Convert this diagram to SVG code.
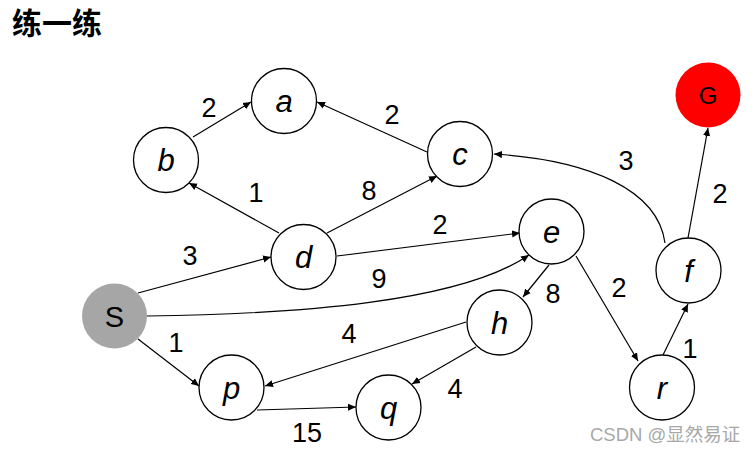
<svg xmlns="http://www.w3.org/2000/svg" width="756" height="453" viewBox="0 0 756 453">
<defs>
<marker id="arr" viewBox="0 0 10 10" refX="10" refY="5" markerWidth="8" markerHeight="8" markerUnits="userSpaceOnUse" orient="auto">
<path d="M0,0.5 L10,5 L0,9.5 z" fill="#000"/>
</marker>
</defs>
<style>
.n{fill:#fff;stroke:#000;stroke-width:1.3}
.nl{font-family:"Liberation Sans",Arial,sans-serif;font-style:italic;font-size:31px;text-anchor:middle;fill:#000}
.e{fill:none;stroke:#000;stroke-width:1.2;marker-end:url(#arr)}
.w{font-family:"Liberation Sans",Arial,sans-serif;font-size:27px;text-anchor:middle;fill:#000}
</style>
<rect width="756" height="453" fill="#fff"/>
<text x="12" y="34" font-family="'Noto Sans CJK SC',sans-serif" font-weight="bold" font-size="30" fill="#000">练一练</text>
<g id="connectors">
<path class="e" d="M193,137 L251,102"/>
<path class="e" d="M427,152 L317,102"/>
<path class="e" d="M279,233 L189,183"/>
<path class="e" d="M327,233 L437,176"/>
<path class="e" d="M337,256 L520,233"/>
<path class="e" d="M138,293 L271,257"/>
<path class="e" d="M147,316 C300,314 460,302 529,255"/>
<path class="e" d="M665,243 C658,190 590,160 494,154"/>
<path class="e" d="M688,238 L708,128"/>
<path class="e" d="M549,265 L523,297"/>
<path class="e" d="M576,256 L638,361"/>
<path class="e" d="M663,355 L688,304"/>
<path class="e" d="M138,339 L199,386"/>
<path class="e" d="M466,322 L265,386"/>
<path class="e" d="M476,347 L412,384"/>
<path class="e" d="M257,410 L356,407"/>
</g>
<g id="weights">
<text class="w" x="209" y="117">2</text>
<text class="w" x="392" y="124">2</text>
<text class="w" x="256" y="202">1</text>
<text class="w" x="369" y="200">8</text>
<text class="w" x="440" y="234">2</text>
<text class="w" x="190" y="265">3</text>
<text class="w" x="379" y="288">9</text>
<text class="w" x="626" y="170">3</text>
<text class="w" x="720" y="203">2</text>
<text class="w" x="553" y="303">8</text>
<text class="w" x="619" y="297">2</text>
<text class="w" x="690" y="358">1</text>
<text class="w" x="176" y="352">1</text>
<text class="w" x="349" y="343">4</text>
<text class="w" x="455" y="398">4</text>
<text class="w" x="307" y="442">15</text>
</g>
<g id="node-a"><circle class="n" cx="284" cy="101" r="32.5"/><text class="nl" x="284" y="112">a</text></g>
<g id="node-b"><circle class="n" cx="166" cy="160" r="32.5"/><text class="nl" x="166" y="171">b</text></g>
<g id="node-c"><circle class="n" cx="460" cy="154" r="32.5"/><text class="nl" x="460" y="165">c</text></g>
<g id="node-d"><circle class="n" cx="303.5" cy="257" r="32.5"/><text class="nl" x="303.5" y="268">d</text></g>
<g id="node-e"><circle class="n" cx="551.5" cy="231.5" r="32.5"/><text class="nl" x="551.5" y="242.5">e</text></g>
<g id="node-f"><circle class="n" cx="688.5" cy="270.5" r="32.5"/><text class="nl" x="688.5" y="281.5">f</text></g>
<g id="node-G"><circle cx="708" cy="95" r="32.5" fill="#ff0000"/><text x="708" y="104" font-family="'Liberation Sans',Arial,sans-serif" font-size="24" text-anchor="middle" fill="#000">G</text></g>
<g id="node-S"><circle cx="114.5" cy="316" r="32.5" fill="#a6a6a6"/><text x="114.5" y="327" font-family="'Liberation Sans',Arial,sans-serif" font-size="29" text-anchor="middle" fill="#000">S</text></g>
<g id="node-p"><circle class="n" cx="231.5" cy="387.5" r="32.5"/><text class="nl" x="231.5" y="398.5">p</text></g>
<g id="node-q"><circle class="n" cx="388.5" cy="407.5" r="32.5"/><text class="nl" x="388.5" y="418.5">q</text></g>
<g id="node-h"><circle class="n" cx="499.5" cy="322.5" r="32.5"/><text class="nl" x="499.5" y="333.5">h</text></g>
<g id="node-r"><circle class="n" cx="662" cy="387.5" r="32.5"/><text class="nl" x="662" y="398.5">r</text></g>
<text x="590" y="441" font-family="'Liberation Sans','Noto Sans CJK SC',sans-serif" font-size="18.5" fill="#a8a8a8">CSDN @显然易证</text>
</svg>
